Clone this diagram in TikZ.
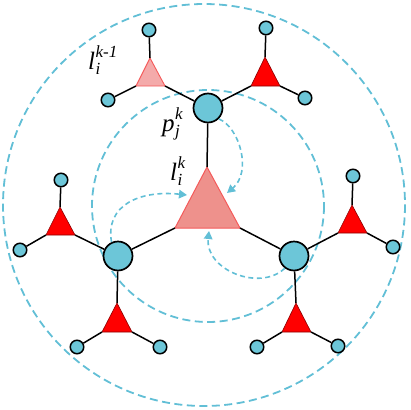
\documentclass[tikz,border=0pt]{standalone}
\usepackage{fontspec}
\setmainfont{Liberation Serif}
\usetikzlibrary{arrows.meta}
\definecolor{cyanb}{HTML}{6CC6D8}
\definecolor{dashb}{HTML}{62BFD6}
\definecolor{pinkc}{HTML}{EE918C}
\definecolor{pinkl}{HTML}{F4AAAA}
\definecolor{pinks}{HTML}{F45A5A}
\newcommand{\symlab}[3]{{\fontsize{25}{25}\selectfont\itshape #1\rlap{\raisebox{-0.2em}{\fontsize{17}{17}\selectfont\hspace{0.5pt}#3}}\raisebox{0.48em}{\fontsize{17}{17}\selectfont\hspace{0.5pt}#2}}}
\begin{document}
\begin{tikzpicture}[x=1pt,y=-1pt,
  big/.style={circle,draw=black,line width=1.7pt,fill=cyanb,minimum size=29pt,inner sep=0pt},
  small/.style={circle,draw=black,line width=1.5pt,fill=cyanb,minimum size=13.5pt,inner sep=0pt},
  link/.style={draw=black,line width=1.5pt},
  ring/.style={draw=dashb,line width=1.8pt,dash pattern=on 8pt off 4.5pt},
  flow/.style={draw=dashb,line width=1.6pt,dash pattern=on 5pt off 3.5pt,-{Triangle[length=8pt,width=8.5pt]}},
  redtri/.style={fill=red,draw=red!55!black,line width=0.6pt},
  pinktri/.style={fill=pinkl,draw=pinks,line width=0.9pt},
  centtri/.style={fill=pinkc,draw=pinks,line width=1pt},
  lab/.style={anchor=base west,inner sep=0pt}]
\useasboundingbox (0,0) rectangle (410,410);
% dashed rings
\draw[ring] (204,205) circle[radius=201];
\draw[ring] (208,206) circle[radius=116];
% triangle corners
\coordinate (Ca) at (207,167); \coordinate (Cl) at (175,228); \coordinate (Cr) at (240,228);
\coordinate (Aa) at (150,58);  \coordinate (Al) at (136,86);  \coordinate (Ar) at (165,86);
\coordinate (Ba) at (265,57);  \coordinate (Bl) at (251,86);  \coordinate (Br) at (280,86);
\coordinate (Da) at (60,207);  \coordinate (Dl) at (46,235);  \coordinate (Dr) at (75,235);
\coordinate (Ea) at (117,303); \coordinate (El) at (102,332); \coordinate (Er) at (132,332);
\coordinate (Fa) at (352,205); \coordinate (Fl) at (338,233); \coordinate (Fr) at (367,233);
\coordinate (Ga) at (296,303); \coordinate (Gl) at (282,332); \coordinate (Gr) at (311,332);
% triangles
\filldraw[centtri] (Ca) -- (Cl) -- (Cr) -- cycle;
\filldraw[pinktri] (Aa) -- (Al) -- (Ar) -- cycle;
\filldraw[redtri] (Ba) -- (Bl) -- (Br) -- cycle;
\filldraw[redtri] (Da) -- (Dl) -- (Dr) -- cycle;
\filldraw[redtri] (Ea) -- (El) -- (Er) -- cycle;
\filldraw[redtri] (Fa) -- (Fl) -- (Fr) -- cycle;
\filldraw[redtri] (Ga) -- (Gl) -- (Gr) -- cycle;
% big circles
\node[big] (P1) at (208,108) {};
\node[big] (P2) at (118,256) {};
\node[big] (P3) at (294,256) {};
% small circles
\node[small] (a1) at (149,30) {};
\node[small] (a2) at (108,100) {};
\node[small] (b1) at (266,28) {};
\node[small] (b2) at (305,98) {};
\node[small] (d1) at (61,180) {};
\node[small] (d2) at (20,250) {};
\node[small] (e1) at (77,347) {};
\node[small] (e2) at (160,347) {};
\node[small] (f1) at (353,176) {};
\node[small] (f2) at (393,247) {};
\node[small] (g1) at (257,347) {};
\node[small] (g2) at (338,346) {};
% links
\draw[link] (P1) -- (Ca);
\draw[link] (P2) -- (Cl);
\draw[link] (P3) -- (Cr);
\draw[link] (P1) -- (Ar);
\draw[link] (P1) -- (Bl);
\draw[link] (P2) -- (Dr);
\draw[link] (P2) -- (Ea);
\draw[link] (P3) -- (Fl);
\draw[link] (P3) -- (Ga);
\draw[link] (a1) -- (Aa); \draw[link] (a2) -- (Al);
\draw[link] (b1) -- (Ba); \draw[link] (b2) -- (Br);
\draw[link] (d1) -- (Da); \draw[link] (d2) -- (Dl);
\draw[link] (e1) -- (El); \draw[link] (e2) -- (Er);
\draw[link] (f1) -- (Fa); \draw[link] (f2) -- (Fr);
\draw[link] (g1) -- (Gl); \draw[link] (g2) -- (Gr);
% flow arrows
\coordinate (t1) at (227,193);
\coordinate (t2) at (187,195);
\coordinate (t3) at (209,231);
\draw[flow] (P1.-45) .. controls (240,128) and (252,172) .. (t1);
\draw[flow] (P2.115) .. controls (105,205) and (140,190) .. (t2);
\draw[flow] (P3.233) .. controls (260,292) and (205,270) .. (t3);
% labels
\node[lab] (L1) at (88,69) {\symlab{l}{k-1}{i}};
\node[lab] (L2) at (162,131) {\symlab{p}{k}{j}};
\node[lab] (L3) at (170,180) {\symlab{l}{k}{i}};
\end{tikzpicture}
\end{document}
